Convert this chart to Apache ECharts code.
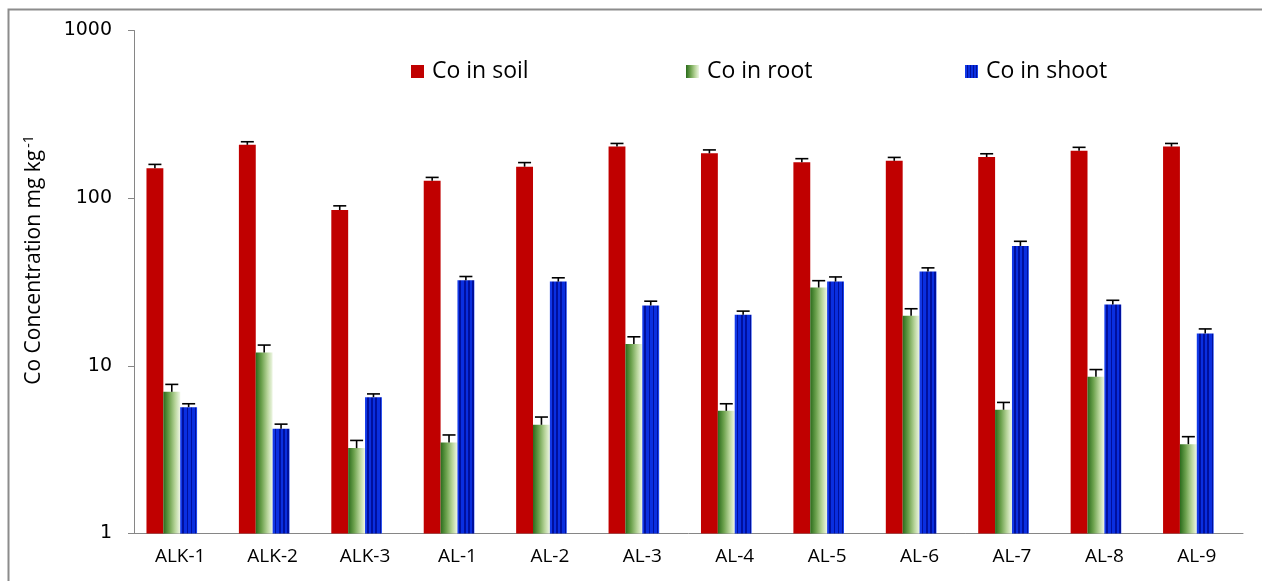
<!DOCTYPE html>
<html>
<head>
<meta charset="utf-8">
<title>Co Concentration</title>
<script src="https://cdn.jsdelivr.net/npm/echarts@6/dist/echarts.min.js"></script>
<style>
  html, body { margin: 0; padding: 0; background: #ffffff; }
  #chart { width: 1262px; height: 581px; }
</style>
</head>
<body>
<div id="chart"></div>
<script>
// Sampling sites
const categories = ['ALK-1', 'ALK-2', 'ALK-3', 'AL-1', 'AL-2', 'AL-3', 'AL-4', 'AL-5', 'AL-6', 'AL-7', 'AL-8', 'AL-9'];

// Cobalt concentration (mg kg-1) with standard errors
const soil      = [151, 208, 85, 127, 154, 203, 185, 164, 167, 176, 192, 203];
const soilErr   = [8, 9, 5, 6, 9, 9, 9, 8, 8, 8, 9, 9];
const root      = [7.0, 12.0, 3.23, 3.49, 4.45, 13.5, 5.39, 29.3, 19.9, 5.47, 8.6, 3.41];
const rootErr   = [0.75, 1.3, 0.36, 0.38, 0.5, 1.4, 0.55, 2.9, 2.0, 0.58, 0.9, 0.37];
const shoot     = [5.67, 4.21, 6.5, 32.4, 31.8, 22.9, 20.2, 31.8, 36.5, 51.9, 23.2, 15.6];
const shootErr  = [0.27, 0.28, 0.3, 1.7, 1.7, 1.4, 1.0, 2.1, 1.9, 3.4, 1.4, 1.0];

// Log axis tick values
const yTicks = [1, 10, 100, 1000];

const seriesNames = ['Co in soil', 'Co in root', 'Co in shoot'];

const FONT = '"Open Sans", Lato, sans-serif';
const CAT_GAP = 0.27;   // share of each category left empty
const SLOTS = 4;        // bar slots per category (fourth one stays empty)

const soilColor = '#C00000';
const rootColor = new echarts.graphic.LinearGradient(0, 0, 1, 0, [
  { offset: 0, color: '#2a6b1b' },
  { offset: 0.35, color: '#6da24e' },
  { offset: 0.7, color: '#b8d59b' },
  { offset: 1, color: '#eef6e4' }
]);
// vertical stripes across each shoot bar
const stripeStops = [];
const stripes = [
  [0.00, 0.12, '#1238e6'], [0.12, 0.22, '#00109e'],
  [0.22, 0.38, '#0a2fe0'], [0.38, 0.48, '#00109e'],
  [0.48, 0.62, '#0a2fe0'], [0.62, 0.72, '#00109e'],
  [0.72, 0.88, '#0a2fe0'], [0.88, 0.96, '#00109e'],
  [0.96, 1.00, '#1a44ee']
];
stripes.forEach(s => {
  stripeStops.push({ offset: s[0], color: s[2] });
  stripeStops.push({ offset: s[1], color: s[2] });
});
const shootColor = new echarts.graphic.LinearGradient(0, 0, 1, 0, stripeStops);

function errorData(values, errs) {
  return values.map((v, i) => [i, v, v + errs[i]]);
}

function errorSeries(slot, values, errs) {
  return {
    type: 'custom',
    z: 5,
    silent: true,
    data: errorData(values, errs),
    renderItem: function (params, api) {
      const ci = api.value(0);
      const base = api.coord([ci, api.value(1)]);
      const top = api.coord([ci, api.value(2)]);
      const band = api.size([1, 0])[0];
      const w = band * (1 - CAT_GAP) / SLOTS;
      const x = base[0] - SLOTS * w / 2 + (slot + 0.5) * w;
      const half = 6.5;
      const style = { stroke: '#000', lineWidth: 1.6 };
      return {
        type: 'group',
        children: [
          { type: 'line', shape: { x1: x, y1: base[1], x2: x, y2: top[1] }, style: style },
          { type: 'line', shape: { x1: x - half, y1: top[1], x2: x + half, y2: top[1] }, style: style }
        ]
      };
    }
  };
}

function barSeries(name, values, color) {
  return {
    name: name,
    type: 'bar',
    data: values,
    barGap: '0%',
    barCategoryGap: (CAT_GAP * 100) + '%',
    itemStyle: { color: color },
    emphasis: { disabled: true }
  };
}

function legendAt(name, left) {
  return {
    data: [name],
    left: left,
    top: 55,
    itemWidth: 13,
    itemHeight: 13,
    itemGap: 10,
    icon: 'rect',
    selectedMode: false,
    textStyle: { fontFamily: FONT, fontSize: 23, color: '#000', padding: [0, 0, 0, 3] }
  };
}

const chart = echarts.init(document.getElementById('chart'), null, { renderer: 'canvas' });

chart.setOption({
  animation: false,
  backgroundColor: '#ffffff',
  legend: [
    legendAt(seriesNames[0], 406),
    legendAt(seriesNames[1], 681),
    legendAt(seriesNames[2], 960)
  ],
  grid: { left: 134, right: 19, top: 30.5, bottom: 47.5, containLabel: false },
  xAxis: {
    type: 'category',
    data: categories,
    axisLine: { lineStyle: { color: '#868686', width: 1 } },
    axisTick: { show: false },
    axisLabel: { fontFamily: FONT, fontSize: 19, color: '#000', margin: 14 }
  },
  yAxis: {
    type: 'log',
    logBase: 10,
    min: yTicks[0],
    max: yTicks[yTicks.length - 1],
    axisLine: { show: true, lineStyle: { color: '#868686', width: 1 } },
    axisTick: { show: true, inside: false, length: 6, lineStyle: { color: '#868686' } },
    minorTick: { show: false },
    splitLine: { show: false },
    axisLabel: {
      fontFamily: '"DejaVu Sans", Verdana, sans-serif',
      fontSize: 19,
      color: '#000',
      margin: 22,
      formatter: v => String(v)
    }
  },
  graphic: [
    {
      type: 'rect',
      silent: true,
      shape: { x: 8.5, y: 9.5, width: 1300, height: 620 },
      style: { fill: 'none', stroke: '#8c8c8c', lineWidth: 2 },
      z: -1
    },
    {
      type: 'text',
      silent: true,
      x: 34,
      y: 260,
      rotation: Math.PI / 2,
      style: {
        text: 'Co Concentration mg kg{sup|-1}',
        font: '21px ' + FONT,
        fill: '#000',
        align: 'center',
        verticalAlign: 'middle',
        rich: {
          sup: { fontSize: 14, fontFamily: FONT, fill: '#000', padding: [0, 0, 10, 2] }
        }
      }
    }
  ],
  series: [
    barSeries(seriesNames[0], soil, soilColor),
    barSeries(seriesNames[1], root, rootColor),
    barSeries(seriesNames[2], shoot, shootColor),
    // empty fourth slot in every category
    barSeries('', categories.map(() => null), 'transparent'),
    errorSeries(0, soil, soilErr),
    errorSeries(1, root, rootErr),
    errorSeries(2, shoot, shootErr)
  ]
});
</script>
</body>
</html>
